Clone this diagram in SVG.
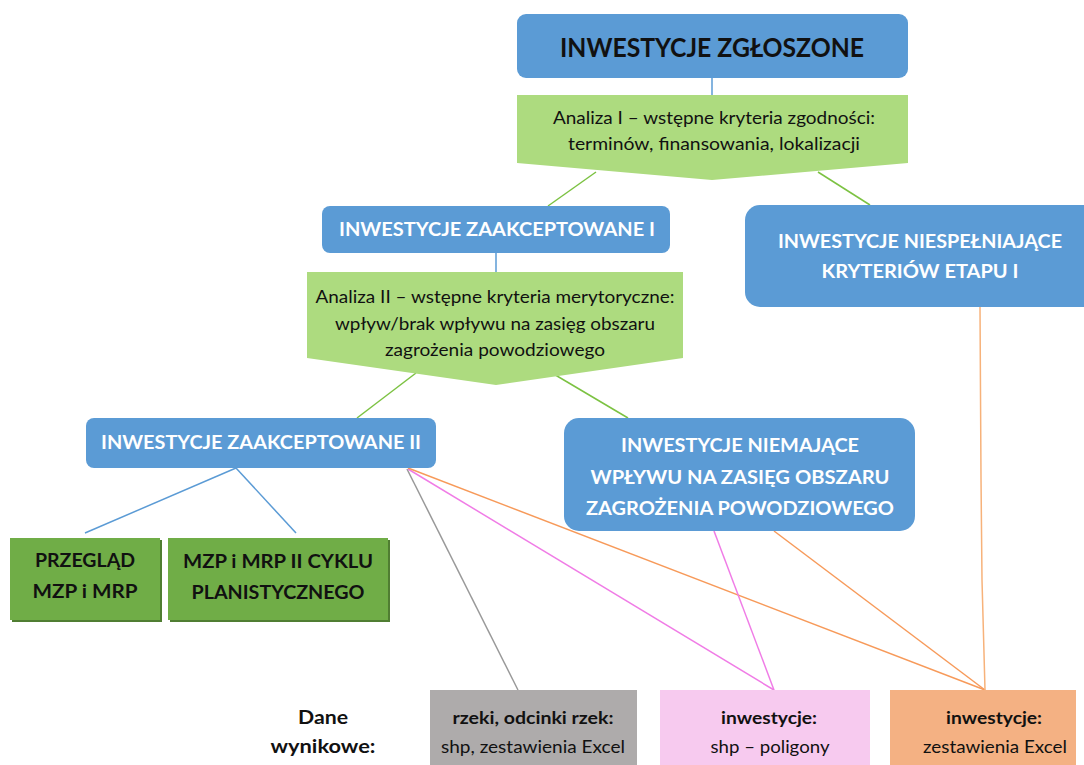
<svg xmlns="http://www.w3.org/2000/svg" width="1084" height="765" viewBox="0 0 1084 765">
<style>
.t{font-family:Lato,"Liberation Sans",sans-serif;text-anchor:middle}
.b{font-weight:bold}
.w{fill:#ffffff}
.k{fill:#111111}
.blue{fill:#5b9bd5}
.lg{fill:#addb7f}
.dg{fill:#70ad47}
.c{fill:none;stroke-width:1.5}
</style>
<rect width="1084" height="765" fill="#ffffff"/>
<g id="connectors">
<line class="c" x1="712" y1="78" x2="712" y2="95" stroke="#5b9bd5"/>
<line class="c" x1="596" y1="172" x2="548" y2="206" stroke="#7cc242"/>
<line class="c" x1="818" y1="172" x2="870" y2="205" stroke="#7cc242"/>
<line class="c" x1="496" y1="253" x2="496" y2="272" stroke="#5b9bd5"/>
<line class="c" x1="416" y1="373" x2="357" y2="418" stroke="#7cc242"/>
<line class="c" x1="552" y1="373" x2="628" y2="418" stroke="#7cc242"/>
<line class="c" x1="236" y1="468" x2="85" y2="533" stroke="#5b9bd5"/>
<line class="c" x1="236" y1="468" x2="296" y2="533" stroke="#5b9bd5"/>
<line class="c" x1="407" y1="469" x2="518" y2="690" stroke="#999999"/>
<line class="c" x1="408" y1="469" x2="774" y2="690" stroke="#f07ce6"/>
<line class="c" x1="408" y1="468" x2="985" y2="690" stroke="#f79a5a"/>
<line class="c" x1="714" y1="531" x2="774" y2="690" stroke="#f07ce6"/>
<line class="c" x1="774" y1="531" x2="985" y2="690" stroke="#f79a5a"/>
<polyline class="c" points="980,307 981,478 982,580 985,690" stroke="#f7b27a"/>
</g>
<g id="n-zgloszone">
<rect class="blue" x="517" y="14" width="391" height="64" rx="9"/>
<text class="t b k" x="712" y="57" font-size="26" textLength="304" lengthAdjust="spacingAndGlyphs">INWESTYCJE ZGŁOSZONE</text>
</g>
<g id="n-analiza1">
<polygon class="lg" points="517,95 908,95 908,163 712,180 517,163"/>
<text class="t k" x="714" y="124" font-size="17" textLength="322" lengthAdjust="spacingAndGlyphs">Analiza I – wstępne kryteria zgodności:</text>
<text class="t k" x="714" y="150" font-size="17" textLength="292" lengthAdjust="spacingAndGlyphs">terminów, finansowania, lokalizacji</text>
</g>
<g id="n-zaakceptowane1">
<rect class="blue" x="322" y="206" width="348" height="47" rx="8"/>
<text class="t b w" x="497" y="236" font-size="18" textLength="316" lengthAdjust="spacingAndGlyphs">INWESTYCJE ZAAKCEPTOWANE I</text>
</g>
<g id="n-niespelniajace">
<rect class="blue" x="745" y="205" width="352" height="102" rx="15"/>
<text class="t b w" x="920" y="248" font-size="18" textLength="284" lengthAdjust="spacingAndGlyphs">INWESTYCJE NIESPEŁNIAJĄCE</text>
<text class="t b w" x="920" y="278" font-size="18" textLength="197" lengthAdjust="spacingAndGlyphs">KRYTERIÓW ETAPU I</text>
</g>
<g id="n-analiza2">
<polygon class="lg" points="307,272 683,272 683,358 496,385 307,358"/>
<text class="t k" x="495" y="303" font-size="17" textLength="359" lengthAdjust="spacingAndGlyphs">Analiza II – wstępne kryteria merytoryczne:</text>
<text class="t k" x="495" y="330" font-size="17" textLength="320" lengthAdjust="spacingAndGlyphs">wpływ/brak wpływu na zasięg obszaru</text>
<text class="t k" x="495" y="356" font-size="17" textLength="220" lengthAdjust="spacingAndGlyphs">zagrożenia powodziowego</text>
</g>
<g id="n-zaakceptowane2">
<rect class="blue" x="86" y="418" width="350" height="50" rx="8"/>
<text class="t b w" x="261" y="449" font-size="18" textLength="320" lengthAdjust="spacingAndGlyphs">INWESTYCJE ZAAKCEPTOWANE II</text>
</g>
<g id="n-niemajace">
<rect class="blue" x="564" y="418" width="351" height="113" rx="15"/>
<text class="t b w" x="740" y="452" font-size="18" textLength="238" lengthAdjust="spacingAndGlyphs">INWESTYCJE NIEMAJĄCE</text>
<text class="t b w" x="740" y="484" font-size="18" textLength="299" lengthAdjust="spacingAndGlyphs">WPŁYWU NA ZASIĘG OBSZARU</text>
<text class="t b w" x="740" y="515" font-size="18" textLength="308" lengthAdjust="spacingAndGlyphs">ZAGROŻENIA POWODZIOWEGO</text>
</g>
<g id="n-przeglad">
<rect x="12" y="540" width="150" height="82" fill="#507e32"/>
<rect class="dg" x="10" y="538" width="150" height="82"/>
<text class="t b k" x="85" y="567" font-size="18" textLength="100" lengthAdjust="spacingAndGlyphs">PRZEGLĄD</text>
<text class="t b k" x="85" y="598" font-size="18" textLength="105" lengthAdjust="spacingAndGlyphs">MZP i MRP</text>
</g>
<g id="n-cykl2">
<rect x="170" y="540" width="220" height="82" fill="#507e32"/>
<rect class="dg" x="168" y="538" width="220" height="82"/>
<text class="t b k" x="278" y="568" font-size="18" textLength="190" lengthAdjust="spacingAndGlyphs">MZP i MRP II CYKLU</text>
<text class="t b k" x="278" y="599" font-size="18" textLength="173" lengthAdjust="spacingAndGlyphs">PLANISTYCZNEGO</text>
</g>
<g id="n-dane">
<text class="t b k" x="323" y="724" font-size="18" textLength="50" lengthAdjust="spacingAndGlyphs">Dane</text>
<text class="t b k" x="323" y="753" font-size="18" textLength="105" lengthAdjust="spacingAndGlyphs">wynikowe:</text>
</g>
<g id="n-rzeki">
<rect x="430" y="690" width="207" height="80" fill="#aeabab"/>
<text class="t b k" x="533" y="724" font-size="17" textLength="161" lengthAdjust="spacingAndGlyphs">rzeki, odcinki rzek:</text>
<text class="t k" x="533" y="753" font-size="17" textLength="184" lengthAdjust="spacingAndGlyphs">shp, zestawienia Excel</text>
</g>
<g id="n-shp">
<rect x="660" y="690" width="210" height="80" fill="#f7caef"/>
<text class="t b k" x="769" y="724" font-size="17" textLength="96" lengthAdjust="spacingAndGlyphs">inwestycje:</text>
<text class="t k" x="770" y="753" font-size="17" textLength="119" lengthAdjust="spacingAndGlyphs">shp – poligony</text>
</g>
<g id="n-excel">
<rect x="890" y="690" width="186" height="80" fill="#f4b183"/>
<text class="t b k" x="994" y="724" font-size="17" textLength="96" lengthAdjust="spacingAndGlyphs">inwestycje:</text>
<text class="t k" x="995" y="753" font-size="17" textLength="144" lengthAdjust="spacingAndGlyphs">zestawienia Excel</text>
</g>
</svg>
